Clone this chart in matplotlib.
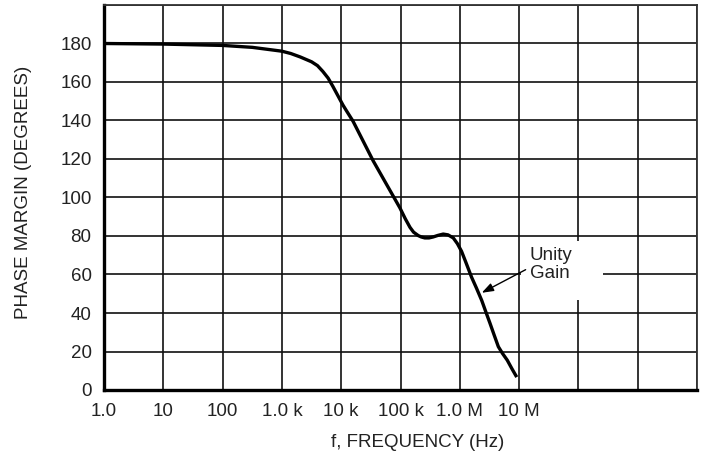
import matplotlib
matplotlib.use("Agg")
import numpy as np
import matplotlib.pyplot as plt
from matplotlib.patches import Rectangle

plt.rcParams['font.family'] = ['Liberation Sans Narrow', 'Liberation Sans', 'DejaVu Sans']

# phase margin curve (log10 of frequency, degrees)
log_freq = [0, 1, 2, 2.5, 3, 3.15, 3.31, 3.5, 3.6, 3.69, 3.78, 3.86, 4.03,
            4.1, 4.2, 4.54, 4.99, 5.08, 5.16, 5.22, 5.3, 5.35, 5.41, 5.48,
            5.55, 5.63, 5.72, 5.8, 5.89, 5.96, 6.03, 6.1, 6.2, 6.28, 6.37,
            6.44, 6.51, 6.58, 6.65, 6.72, 6.8, 6.88, 6.96]
phase = [180, 179.7, 179, 178, 176, 174.8, 173, 170.5, 168.5, 165.5, 162,
         157.7, 148, 144.5, 139.6, 119, 94.6, 89, 84.5, 82, 80.2, 79.5, 79,
         79, 79.5, 80.3, 81, 80.6, 79, 76, 72, 66.5, 58.5, 53, 46.5, 40.5,
         34.6, 28.5, 22.5, 19, 15.5, 11, 6.7]
freq = [10 ** v for v in log_freq]

x_ticks = [10 ** k for k in range(11)]
x_tick_labels = ["1.0", "10", "100", "1.0 k", "10 k", "100 k", "1.0 M", "10 M", "", "", ""]
y_ticks = [0, 20, 40, 60, 80, 100, 120, 140, 160, 180, 200]
y_tick_labels = ["0", "20", "40", "60", "80", "100", "120", "140", "160", "180", ""]

fig = plt.figure(figsize=(7.07, 4.61), dpi=100)
ax = fig.add_axes([104 / 707, 1 - 390 / 461, 593 / 707, 385 / 461])

ax.plot(freq, phase, color="black", lw=2.4, solid_capstyle="butt",
        solid_joinstyle="round", zorder=3)

ax.set_xscale("log")
ax.set_xlim(1, 1e10)
ax.set_ylim(0, 200)
ax.set_xticks(x_ticks)
ax.set_xticklabels(x_tick_labels)
ax.xaxis.set_minor_locator(matplotlib.ticker.NullLocator())
ax.set_yticks(y_ticks)
ax.set_yticklabels(y_tick_labels)
ax.tick_params(length=0, labelsize=13.5, colors="#222222")
ax.tick_params(axis="x", pad=9)
ax.tick_params(axis="y", pad=9)
ax.grid(True, color="#111111", lw=1.2)

for side in ["left", "bottom"]:
    ax.spines[side].set_linewidth(2.4)
for side in ["top", "right"]:
    ax.spines[side].set_linewidth(1.3)
    ax.spines[side].set_color("#333333")

ax.set_xlabel("f, FREQUENCY (Hz)", fontsize=13.5, color="#222222")
ax.xaxis.set_label_coords((418 - 104) / 593, -(434 - 390) / 385)
ax.set_ylabel("PHASE MARGIN (DEGREES)", fontsize=13.5, color="#222222")
ax.yaxis.set_label_coords(-(104 - 32) / 593, (390 - 192) / 385)

# white box behind the annotation
ax.add_patch(Rectangle((10 ** 7.03, 46.5), 10 ** 8.41 - 10 ** 7.03, 31,
                       facecolor="white", edgecolor="none", zorder=2))
ax.text(10 ** 7.18, 74.5, "Unity\nGain", fontsize=13.5, color="#222222",
        va="top", ha="left", linespacing=1.1, zorder=4)
ax.annotate("", xy=(10 ** 6.37, 50.5), xytext=(10 ** 7.11, 62.5),
            arrowprops=dict(arrowstyle="-|>,head_length=0.7,head_width=0.25",
                            color="black", lw=1.0, shrinkA=0, shrinkB=0),
            zorder=4)

fig.savefig("out.png", dpi=100)
